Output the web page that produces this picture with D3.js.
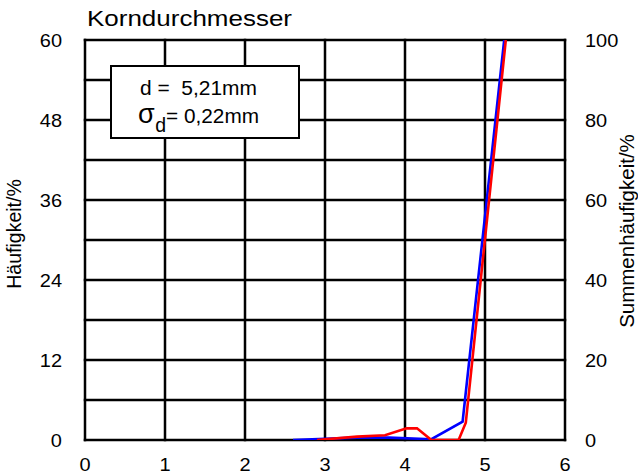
<!DOCTYPE html>
<head>
  <meta charset="utf-8">
  <script src="https://d3js.org/d3.v7.min.js"></script>
  <style>
    body { margin:0; background:#fff; }
    text { font-family: "Liberation Sans", Arial, sans-serif; fill:#000; }
  </style>
</head>
<body>
<script>

/* Data */
/* ==== */

var xTicks = [0, 1, 2, 3, 4, 5, 6],
    leftTicks = [0, 12, 24, 36, 48, 60],
    rightTicks = [0, 20, 40, 60, 80, 100],
    leftGrid = [0, 6, 12, 18, 24, 30, 36, 42, 48, 54, 60];

// Summenhäufigkeit (blue, right axis, %)
var sumX = [2.6, 3.0, 3.4, 3.8, 4.33, 4.72, 5.24],
    sumY = [0, 0.3, 0.6, 0.6, 0.2, 4.6, 100];

// Häufigkeit (red, left axis, %)
var freqX = [2.9, 3.0, 3.4, 3.75, 4.02, 4.15, 4.33, 4.67, 4.76, 5.26],
    freqY = [0, 0.1, 0.5, 0.7, 1.75, 1.75, 0, 0, 2.6, 60];


/* Set up */
/* ====== */

var width = 638,
    height = 476,
    margin = { top: 40, right: 73, bottom: 36, left: 85 },
    w = width - margin.left - margin.right,
    h = height - margin.top - margin.bottom;

var svg = d3.select('body')
  .append('svg')
    .attr('width', width)
    .attr('height', height);

var x = d3.scaleLinear().domain([0, 6]).range([margin.left, margin.left + w]);
var yL = d3.scaleLinear().domain([0, 60]).range([margin.top + h, margin.top]);
var yR = d3.scaleLinear().domain([0, 100]).range([margin.top + h, margin.top]);

svg.append('clipPath').attr('id', 'plot')
  .append('rect')
    .attr('x', margin.left).attr('y', margin.top)
    .attr('width', w).attr('height', h);

// grid
svg.selectAll('.vgrid')
    .data(xTicks)
    .enter()
  .append('line')
    .attr('x1', function(d) { return x(d); })
    .attr('x2', function(d) { return x(d); })
    .attr('y1', margin.top - 1.25)
    .attr('y2', margin.top + h + 1.25)
    .attr('stroke', '#000')
    .attr('stroke-width', 2.5);

svg.selectAll('.hgrid')
    .data(leftGrid)
    .enter()
  .append('line')
    .attr('y1', function(d) { return yL(d); })
    .attr('y2', function(d) { return yL(d); })
    .attr('x1', margin.left - 1.25)
    .attr('x2', margin.left + w + 1.25)
    .attr('stroke', '#000')
    .attr('stroke-width', 2.5);

// tick labels (reference glyphs are a bit wider than Liberation Sans)
function widen(sel, f) {
  sel.each(function() {
    var len = this.getComputedTextLength();
    d3.select(this).attr('textLength', len * f).attr('lengthAdjust', 'spacingAndGlyphs');
  });
}

var xl = svg.selectAll('.xlab')
    .data(xTicks)
    .enter()
  .append('text')
    .attr('x', function(d) { return x(d); })
    .attr('y', 471)
    .attr('text-anchor', 'middle')
    .style('font-size', '18.5px')
    .text(function(d) { return d; });

var ll = svg.selectAll('.ylab')
    .data(leftTicks)
    .enter()
  .append('text')
    .attr('x', 62)
    .attr('y', function(d) { return yL(d) + 6.5; })
    .attr('text-anchor', 'end')
    .style('font-size', '18.5px')
    .text(function(d) { return d; });

var rl = svg.selectAll('.rlab')
    .data(rightTicks)
    .enter()
  .append('text')
    .attr('x', 585)
    .attr('y', function(d) { return yR(d) + 6.5; })
    .style('font-size', '18.5px')
    .text(function(d) { return d; });

widen(xl, 1.08);
widen(ll, 1.08);
widen(rl, 1.08);

// titles
svg.append('text')
    .attr('x', 87)
    .attr('y', 26)
    .attr('textLength', 205)
    .attr('lengthAdjust', 'spacingAndGlyphs')
    .style('font-size', '22.5px')
    .text('Korndurchmesser');

svg.append('text')
    .attr('transform', 'translate(21,234) rotate(-90)')
    .attr('text-anchor', 'middle')
    .style('font-size', '19.5px')
    .text('Häufigkeit/%');

svg.append('text')
    .attr('transform', 'translate(634,231) rotate(-90)')
    .attr('text-anchor', 'middle')
    .style('font-size', '20.5px')
    .text('Summenhäufigkeit/%');

// info box
svg.append('rect')
    .attr('x', 111)
    .attr('y', 66)
    .attr('width', 188)
    .attr('height', 72)
    .attr('fill', '#fff')
    .attr('stroke', '#000')
    .attr('stroke-width', 2);

svg.append('text')
    .attr('x', 140)
    .attr('y', 95)
    .attr('textLength', 117)
    .attr('lengthAdjust', 'spacingAndGlyphs')
    .style('font-size', '19.5px')
    .style('white-space', 'pre')
    .text('d =  5,21mm');

var sd = svg.append('text')
    .attr('x', 138)
    .attr('y', 123)
    .style('font-size', '19.5px');

sd.append('tspan')
    .style('font-size', '27px')
    .text('σ');

sd.append('tspan')
    .attr('dx', 0.5)
    .attr('dy', 8.5)
    .text('d');

sd.append('tspan')
    .attr('dy', -9)
    .attr('textLength', 93)
    .attr('lengthAdjust', 'spacingAndGlyphs')
    .text('= 0,22mm');

// curves
var lineR = d3.line()
    .x(function(d) { return x(d[0]); })
    .y(function(d) { return yR(d[1]); });

var lineL = d3.line()
    .x(function(d) { return x(d[0]); })
    .y(function(d) { return yL(d[1]); });

var curves = svg.append('g').attr('clip-path', 'url(#plot)');

curves.append('path')
    .datum(d3.zip(sumX, sumY))
    .attr('d', lineR)
    .attr('fill', 'none')
    .attr('stroke', '#0000ff')
    .attr('stroke-width', 2.6);

curves.append('path')
    .datum(d3.zip(freqX, freqY))
    .attr('d', lineL)
    .attr('fill', 'none')
    .attr('stroke', '#ff0000')
    .attr('stroke-width', 2.6);

</script>
</body>
